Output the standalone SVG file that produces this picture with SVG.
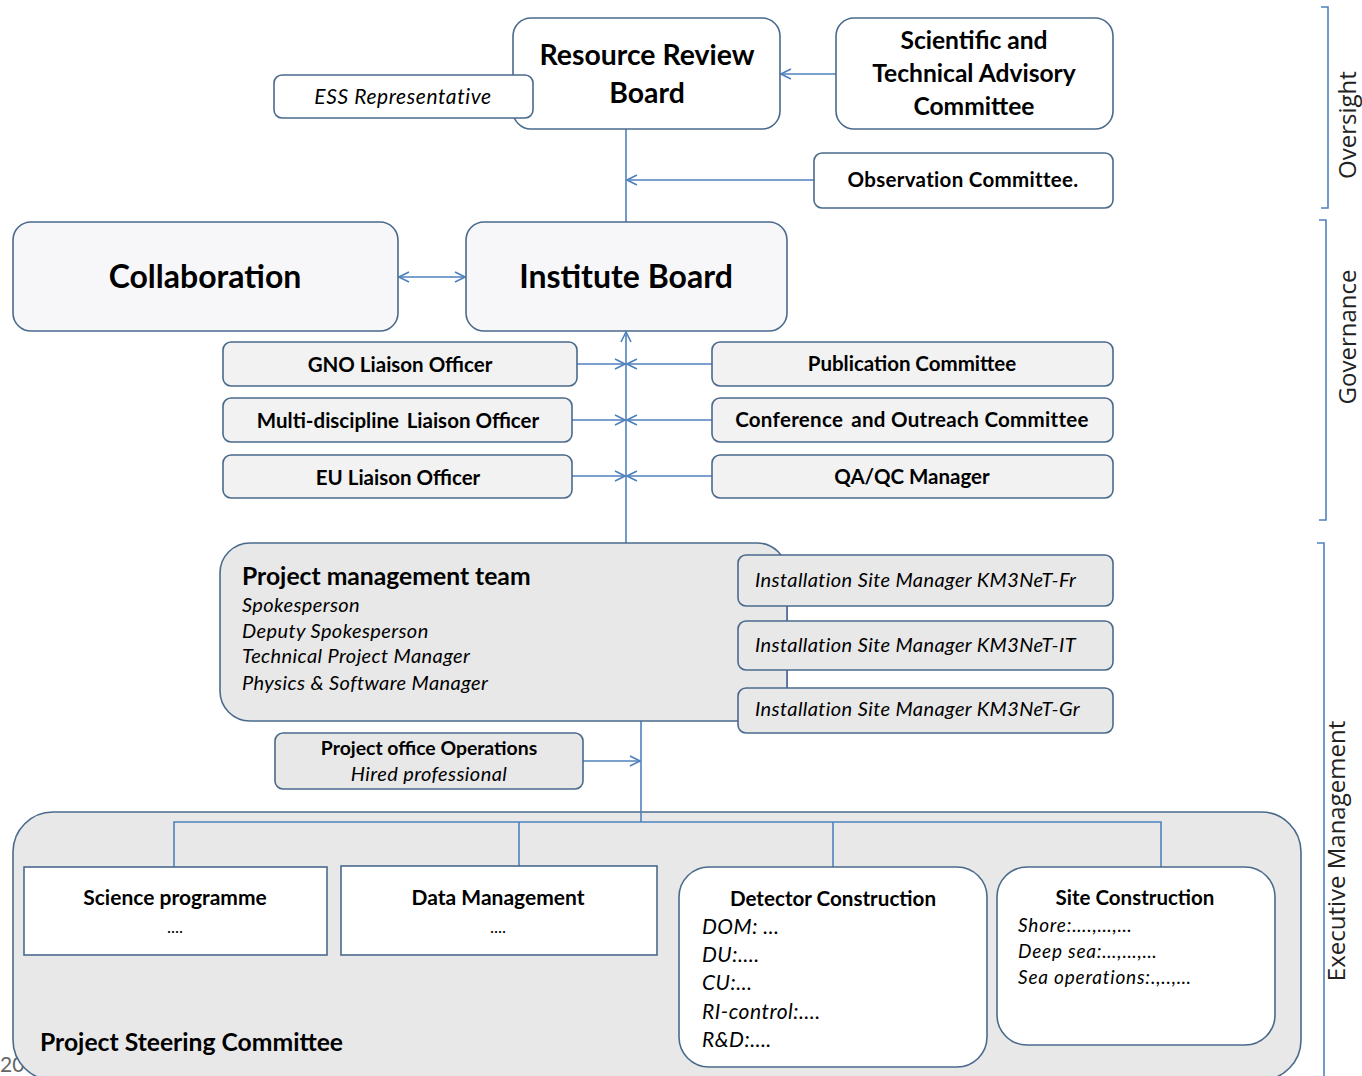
<svg xmlns="http://www.w3.org/2000/svg" width="1362" height="1076" viewBox="0 0 1362 1076">
<style>
text{font-family:Lato,"Open Sans","Liberation Sans",sans-serif;fill:#000}
.b{font-weight:bold}
.i{font-style:italic}
.c{text-anchor:middle}
.box{stroke:#4a6a8c;stroke-width:1.6}
.w{fill:#fff}
.l{fill:#f7f7f9}
.g{fill:#f2f2f2}
.d{fill:#e8e8e8}
.con{stroke:#4f81bd;stroke-width:1.6;fill:none}
.side{font-family:"Open Sans","DejaVu Sans",sans-serif;font-size:24px;fill:#222}
</style>
<defs>
<marker id="ah" viewBox="0 0 12 12" refX="11" refY="6" markerWidth="12" markerHeight="12" markerUnits="userSpaceOnUse" orient="auto-start-reverse">
<path d="M1,1 L11,6 L1,11" fill="none" stroke="#4f81bd" stroke-width="1.6"/>
</marker>
</defs>

<text x="0" y="1072" font-size="21" style="fill:#666">20</text>

<g id="brackets">
<path class="con" d="M1321,7 H1328 V208 H1321"/>
<path class="con" d="M1319,220 H1326 V520 H1319"/>
<path class="con" d="M1317,543 H1324 V1076"/>
<text class="side c" transform="translate(1356,125) rotate(-90)">Oversight</text>
<text class="side c" transform="translate(1356,337) rotate(-90)">Governance</text>
<text class="side c" transform="translate(1345,851) rotate(-90)">Executive Management</text>
</g>

<g id="psc">
<rect class="box d" x="13" y="812" width="1288" height="268" rx="40"/>
<text class="b" x="40" y="1051" font-size="24.7">Project Steering Committee</text>
</g>

<g id="connectors">
<line class="con" x1="626" y1="129" x2="626" y2="222"/>
<line class="con" x1="836" y1="74" x2="781" y2="74" marker-end="url(#ah)"/>
<line class="con" x1="814" y1="180" x2="627" y2="180" marker-end="url(#ah)"/>
<line class="con" x1="399" y1="277" x2="465" y2="277" marker-start="url(#ah)" marker-end="url(#ah)"/>
<line class="con" x1="626" y1="543" x2="626" y2="332" marker-end="url(#ah)"/>
<line class="con" x1="577" y1="364" x2="625" y2="364" marker-end="url(#ah)"/>
<line class="con" x1="572" y1="420" x2="625" y2="420" marker-end="url(#ah)"/>
<line class="con" x1="572" y1="476" x2="625" y2="476" marker-end="url(#ah)"/>
<line class="con" x1="712" y1="364" x2="627" y2="364" marker-end="url(#ah)"/>
<line class="con" x1="712" y1="420" x2="627" y2="420" marker-end="url(#ah)"/>
<line class="con" x1="712" y1="476" x2="627" y2="476" marker-end="url(#ah)"/>
<line class="con" x1="787" y1="600" x2="787" y2="695"/>
<line class="con" x1="583" y1="761" x2="640" y2="761" marker-end="url(#ah)"/>
<line class="con" x1="641" y1="721" x2="641" y2="822"/>
<path class="con" d="M174,867 V822 H1161 V867"/>
<line class="con" x1="519" y1="822" x2="519" y2="866"/>
<line class="con" x1="833" y1="822" x2="833" y2="867"/>
</g>

<g id="rrb">
<rect class="box w" x="513" y="18" width="267" height="111" rx="18"/>
<text class="b c" x="647" y="65" font-size="28.4">Resource Review</text>
<text class="b c" x="647" y="103" font-size="28.4">Board</text>
</g>
<g id="ess">
<rect class="box w" x="274" y="75" width="259" height="43" rx="8"/>
<text class="i c" x="403" y="104" font-size="21" letter-spacing="0.6">ESS Representative</text>
</g>
<g id="stac">
<rect class="box w" x="836" y="18" width="277" height="111" rx="18"/>
<text class="b c" x="974" y="49" font-size="24.6">Scientific and</text>
<text class="b c" x="974" y="82" font-size="24.6">Technical Advisory</text>
<text class="b c" x="974" y="115" font-size="24.6">Committee</text>
</g>
<g id="obs">
<rect class="box w" x="814" y="153" width="299" height="55" rx="8"/>
<text class="b c" x="963" y="187" font-size="20.5" letter-spacing="0.3">Observation Committee.</text>
</g>
<g id="collab">
<rect class="box l" x="13" y="222" width="385" height="109" rx="18"/>
<text class="b c" x="205" y="288" font-size="32">Collaboration</text>
</g>
<g id="ib">
<rect class="box l" x="466" y="222" width="321" height="109" rx="18"/>
<text class="b c" x="626" y="288" font-size="32">Institute Board</text>
</g>
<g id="gno">
<rect class="box g" x="223" y="342" width="354" height="44" rx="8"/>
<text class="b c" x="400" y="372" font-size="20.5">GNO Liaison Officer</text>
</g>
<g id="mdlo">
<rect class="box g" x="223" y="398" width="349" height="44" rx="8"/>
<text class="b c" x="398" y="428" font-size="20.5">Multi-discipline<tspan dx="8">Liaison Officer</tspan></text>
</g>
<g id="eulo">
<rect class="box g" x="223" y="455" width="349" height="43" rx="8"/>
<text class="b c" x="398" y="485" font-size="20.5">EU Liaison Officer</text>
</g>
<g id="pub">
<rect class="box g" x="712" y="342" width="401" height="44" rx="8"/>
<text class="b c" x="912" y="371" font-size="20.5">Publication<tspan dx="5">Committee</tspan></text>
</g>
<g id="conf">
<rect class="box g" x="712" y="398" width="401" height="44" rx="8"/>
<text class="b c" x="912" y="427" font-size="20.5" letter-spacing="0.3">Conference<tspan dx="8">and Outreach Committee</tspan></text>
</g>
<g id="qaqc">
<rect class="box g" x="712" y="455" width="401" height="43" rx="8"/>
<text class="b c" x="912" y="484" font-size="20.5">QA/QC Manager</text>
</g>
<g id="pmt">
<rect class="box d" x="220" y="543" width="567" height="178" rx="30"/>
<text class="b" x="242" y="585" font-size="24.7">Project management team</text>
<text class="i" x="242" y="612" font-size="20" letter-spacing="0.4">Spokesperson</text>
<text class="i" x="242" y="638" font-size="20" letter-spacing="0.4">Deputy Spokesperson</text>
<text class="i" x="242" y="663" font-size="20" letter-spacing="0.4">Technical Project Manager</text>
<text class="i" x="242" y="690" font-size="20" letter-spacing="0.4">Physics &amp; Software Manager</text>
</g>
<g id="ismfr">
<rect class="box d" x="738" y="555" width="375" height="51" rx="8"/>
<text class="i" x="755" y="587" font-size="20" letter-spacing="0.4">Installation Site Manager KM3NeT-Fr</text>
</g>
<g id="ismit">
<rect class="box d" x="738" y="621" width="375" height="49" rx="8"/>
<text class="i" x="755" y="652" font-size="20" letter-spacing="0.4">Installation Site Manager KM3NeT-IT</text>
</g>
<g id="ismgr">
<rect class="box d" x="738" y="688" width="375" height="45" rx="8"/>
<text class="i" x="755" y="716" font-size="20" letter-spacing="0.4">Installation Site Manager KM3NeT-Gr</text>
</g>
<g id="poo">
<rect class="box d" x="275" y="733" width="308" height="56" rx="8"/>
<text class="b c" x="429" y="755" font-size="19.4">Project office Operations</text>
<text class="i c" x="429" y="781" font-size="20" letter-spacing="0.4">Hired professional</text>
</g>
<g id="sci">
<rect class="box w" x="24" y="867" width="303" height="88"/>
<text class="b c" x="175" y="905" font-size="21">Science programme</text>
<text class="c" x="175" y="933" font-size="17">....</text>
</g>
<g id="data">
<rect class="box w" x="341" y="866" width="316" height="89"/>
<text class="b c" x="498" y="905" font-size="21">Data Management</text>
<text class="c" x="498" y="933" font-size="17">....</text>
</g>
<g id="det">
<rect class="box w" x="679" y="867" width="308" height="200" rx="30"/>
<text class="b c" x="833" y="906" font-size="20.6">Detector Construction</text>
<text class="i" x="702" y="934" font-size="21" letter-spacing="0.5">DOM: …</text>
<text class="i" x="702" y="962" font-size="21" letter-spacing="0.5">DU:….</text>
<text class="i" x="702" y="990" font-size="21" letter-spacing="0.5">CU:…</text>
<text class="i" x="702" y="1019" font-size="21" letter-spacing="0.5">RI-control:….</text>
<text class="i" x="702" y="1047" font-size="21" letter-spacing="0.5">R&amp;D:….</text>
</g>
<g id="site">
<rect class="box w" x="997" y="867" width="278" height="178" rx="30"/>
<text class="b c" x="1135" y="905" font-size="20.5">Site Construction</text>
<text class="i" x="1018" y="932" font-size="19" letter-spacing="0.8">Shore:….,…,…</text>
<text class="i" x="1018" y="958" font-size="19" letter-spacing="0.8">Deep sea:…,…,…</text>
<text class="i" x="1018" y="984" font-size="19" letter-spacing="0.8">Sea operations:.,..,…</text>
</g>
</svg>
